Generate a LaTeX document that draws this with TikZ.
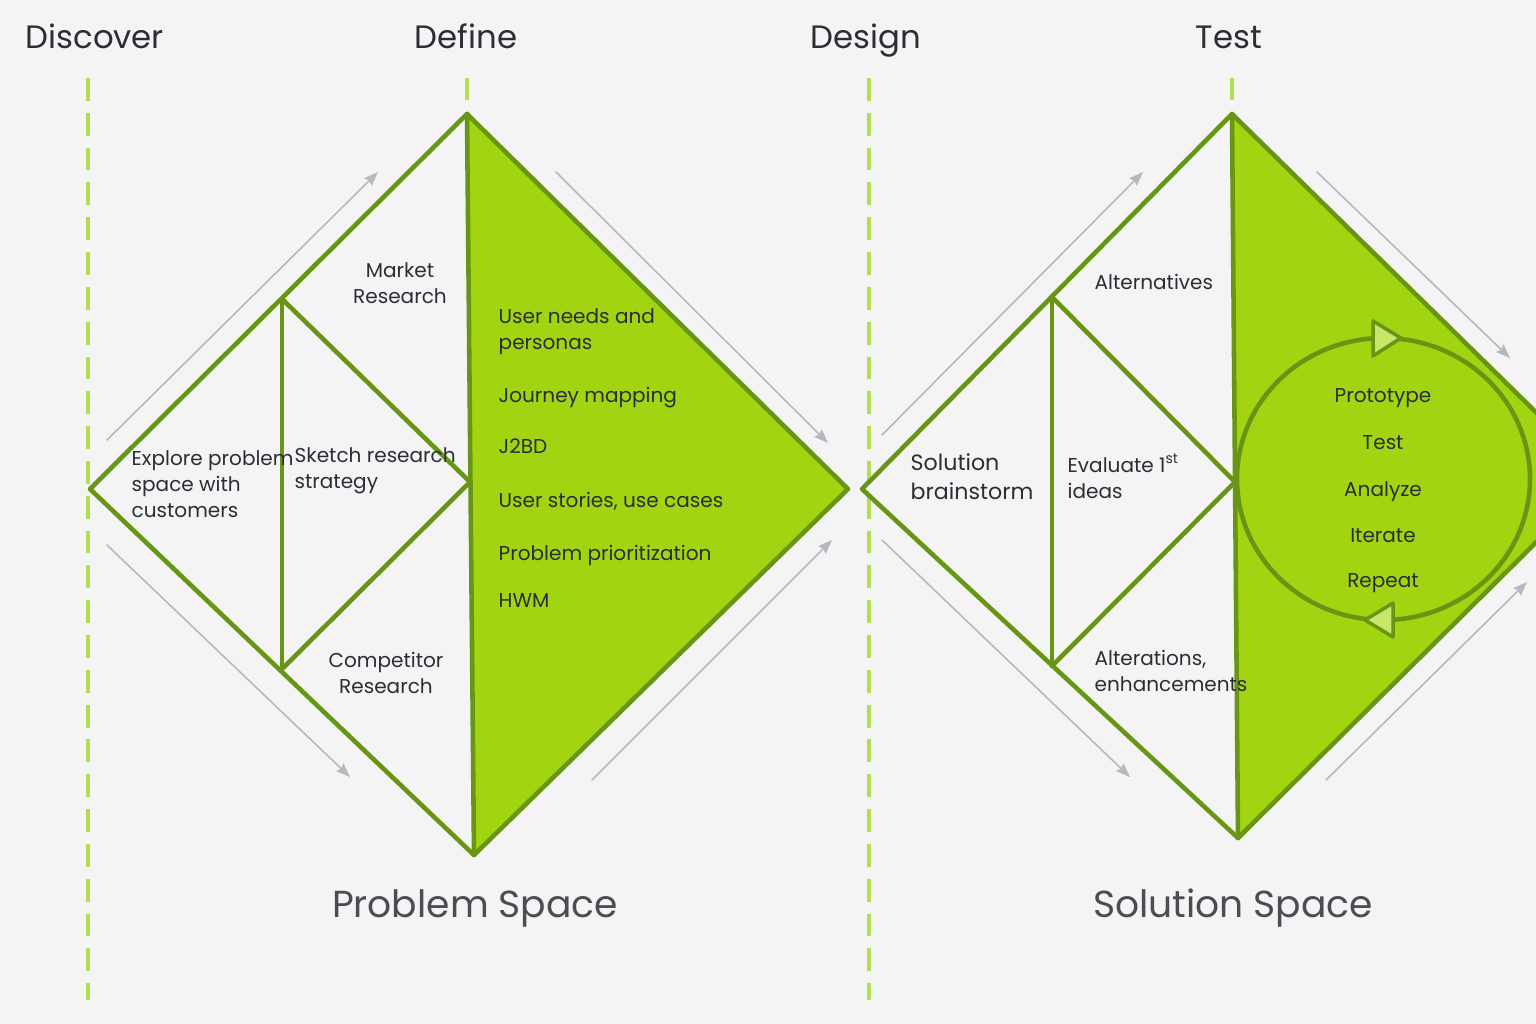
\documentclass[tikz,border=0pt]{standalone}
\usepackage{fontspec}
\setmainfont{Poppins}
\usetikzlibrary{arrows.meta}
\definecolor{leaf}{RGB}{104,150,20}
\definecolor{lime}{RGB}{163,212,18}
\definecolor{guide}{RGB}{178,222,82}
\definecolor{flow}{RGB}{182,184,192}
\definecolor{ink}{RGB}{43,46,54}
\definecolor{paper}{RGB}{244,244,244}
\definecolor{tipfill}{RGB}{200,230,105}
\begin{document}
\begin{tikzpicture}[line cap=round,line join=round,x=0.01cm,y=-0.01cm,
		>={Stealth[length=4pt,width=3pt,inset=0.5pt]},
		rim/.style={draw=leaf,line width=1.3pt},
		guideline/.style={guide,line width=1.1pt,line cap=butt,dash pattern=on 6.5pt off 3.4pt},
		flowarrow/.style={->,flow,line width=0.45pt},
		heading/.style={ink,font=\fontsize{9.2}{11}\selectfont,inner sep=0pt,anchor=base},
		note/.style={ink,font=\fontsize{5.7}{7.4}\selectfont,inner sep=0pt},
		bignote/.style={ink,font=\fontsize{6.3}{8.3}\selectfont,inner sep=0pt},
		spacetitle/.style={ink!85,font=\fontsize{10.7}{13}\selectfont,inner sep=0pt}]
				\clip (0,0) rectangle (1536,1024);
				\fill[paper] (0,0) rectangle (1536,1024);
				\draw[guideline] (88,78) -- (88,1000);
				\draw[guideline] (869,78) -- (869,1000);
				\draw[guideline] (467,78) -- (467,100);
				\draw[guideline] (1232,78) -- (1232,100);
				\coordinate (ltop) at (467,114);
				\coordinate (lleft) at (90,489);
				\coordinate (lright) at (848,489);
				\coordinate (lbot) at (474,855);
				\coordinate (lup) at (282,299);
				\coordinate (llow) at (282,669);
				\coordinate (lmid) at (470,482);
				\coordinate (rtop) at (1232,114);
				\coordinate (rleft) at (862,489);
				\coordinate (rright) at (1602,477);
				\coordinate (rbot) at (1238,838);
				\coordinate (rup) at (1052,297);
				\coordinate (rlow) at (1052,666);
				\coordinate (rmid) at (1235,482);
				\fill[lime] (ltop) -- (lright) -- (lbot) -- cycle;
				\draw[rim] (ltop) -- (lright) -- (lbot) -- (lleft) -- cycle;
				\draw[rim] (ltop) -- (lbot);
				\draw[rim] (lup) -- (llow);
				\draw[rim] (lup) -- (lmid) -- (llow);
				\fill[lime] (rtop) -- (rright) -- (rbot) -- cycle;
				\draw[rim] (rtop) -- (rright) -- (rbot) -- (rleft) -- cycle;
				\draw[rim] (rtop) -- (rbot);
				\draw[rim] (rup) -- (rlow);
				\draw[rim] (rup) -- (rmid) -- (rlow);
				\draw[flowarrow] (107,440) -- (378,172);
				\draw[flowarrow] (107,545) -- (350,777);
				\draw[flowarrow] (556,172) -- (828,443);
				\draw[flowarrow] (592,780) -- (832,540);
				\draw[flowarrow] (882,435) -- (1143,172);
				\draw[flowarrow] (882,540) -- (1130,777);
				\draw[flowarrow] (1317,172) -- (1510,358);
				\draw[flowarrow] (1326,780) -- (1527,582);
				\draw[rim,fill=lime] (1383.5,479) circle [x radius=146.5,y radius=141];
				\filldraw[fill=tipfill,draw=leaf,line width=1pt] (1373,321) -- (1401,338) -- (1373,356) -- cycle;
				\filldraw[fill=tipfill,draw=leaf,line width=1pt] (1393,603) -- (1365,620) -- (1393,637) -- cycle;
				\node[heading,anchor=base west] (discover) at (25,48) {Discover};
				\node[heading] (define) at (466,48) {Define};
				\node[heading] (design) at (866,48) {Design};
				\node[heading] (test) at (1229,48) {Test};
				\node[note,align=center] (market) at (400,283) {Market\\Research};
				\node[note,align=left,anchor=west] (explore) at (131,484) {Explore problem\\space with\\customers};
				\node[note,align=left,anchor=west] (sketch) at (294,471) {Sketch research\\strategy};
				\node[note,align=center] (competitor) at (386,673) {Competitor\\Research};
				\node[note,align=left,anchor=west] (needs) at (498,332) {User needs and\\personas};
				\node[note,anchor=base west] (journey) at (498,402) {Journey mapping};
				\node[note,anchor=base west] (jtbd) at (498,453) {J2BD};
				\node[note,anchor=base west] (stories) at (498,507) {User stories, use cases};
				\node[note,anchor=base west] (prioritize) at (498,560) {Problem prioritization};
				\node[note,anchor=base west] (hwm) at (498,607) {HWM};
				\node[note,anchor=base west] (alternatives) at (1094,289) {Alternatives};
				\node[bignote,align=left,anchor=west] (brainstorm) at (910,477) {Solution\\brainstorm};
				\node[note,align=left,anchor=west] (evaluate) at (1067,476) {Evaluate 1\textsuperscript{st}\\ideas};
				\node[note,align=left,anchor=west] (alterations) at (1094,671) {Alterations,\\enhancements};
				\node[note,anchor=base] (prototype) at (1383,402) {Prototype};
				\node[note,anchor=base] (testing) at (1383,449) {Test};
				\node[note,anchor=base] (analyze) at (1383,496) {Analyze};
				\node[note,anchor=base] (iterate) at (1383,542) {Iterate};
				\node[note,anchor=base] (repeat) at (1383,587) {Repeat};
				\node[spacetitle,anchor=base] (problem) at (475,917) {Problem Space};
				\node[spacetitle,anchor=base] (solution) at (1233,917) {Solution Space};
\end{tikzpicture}
\end{document}
